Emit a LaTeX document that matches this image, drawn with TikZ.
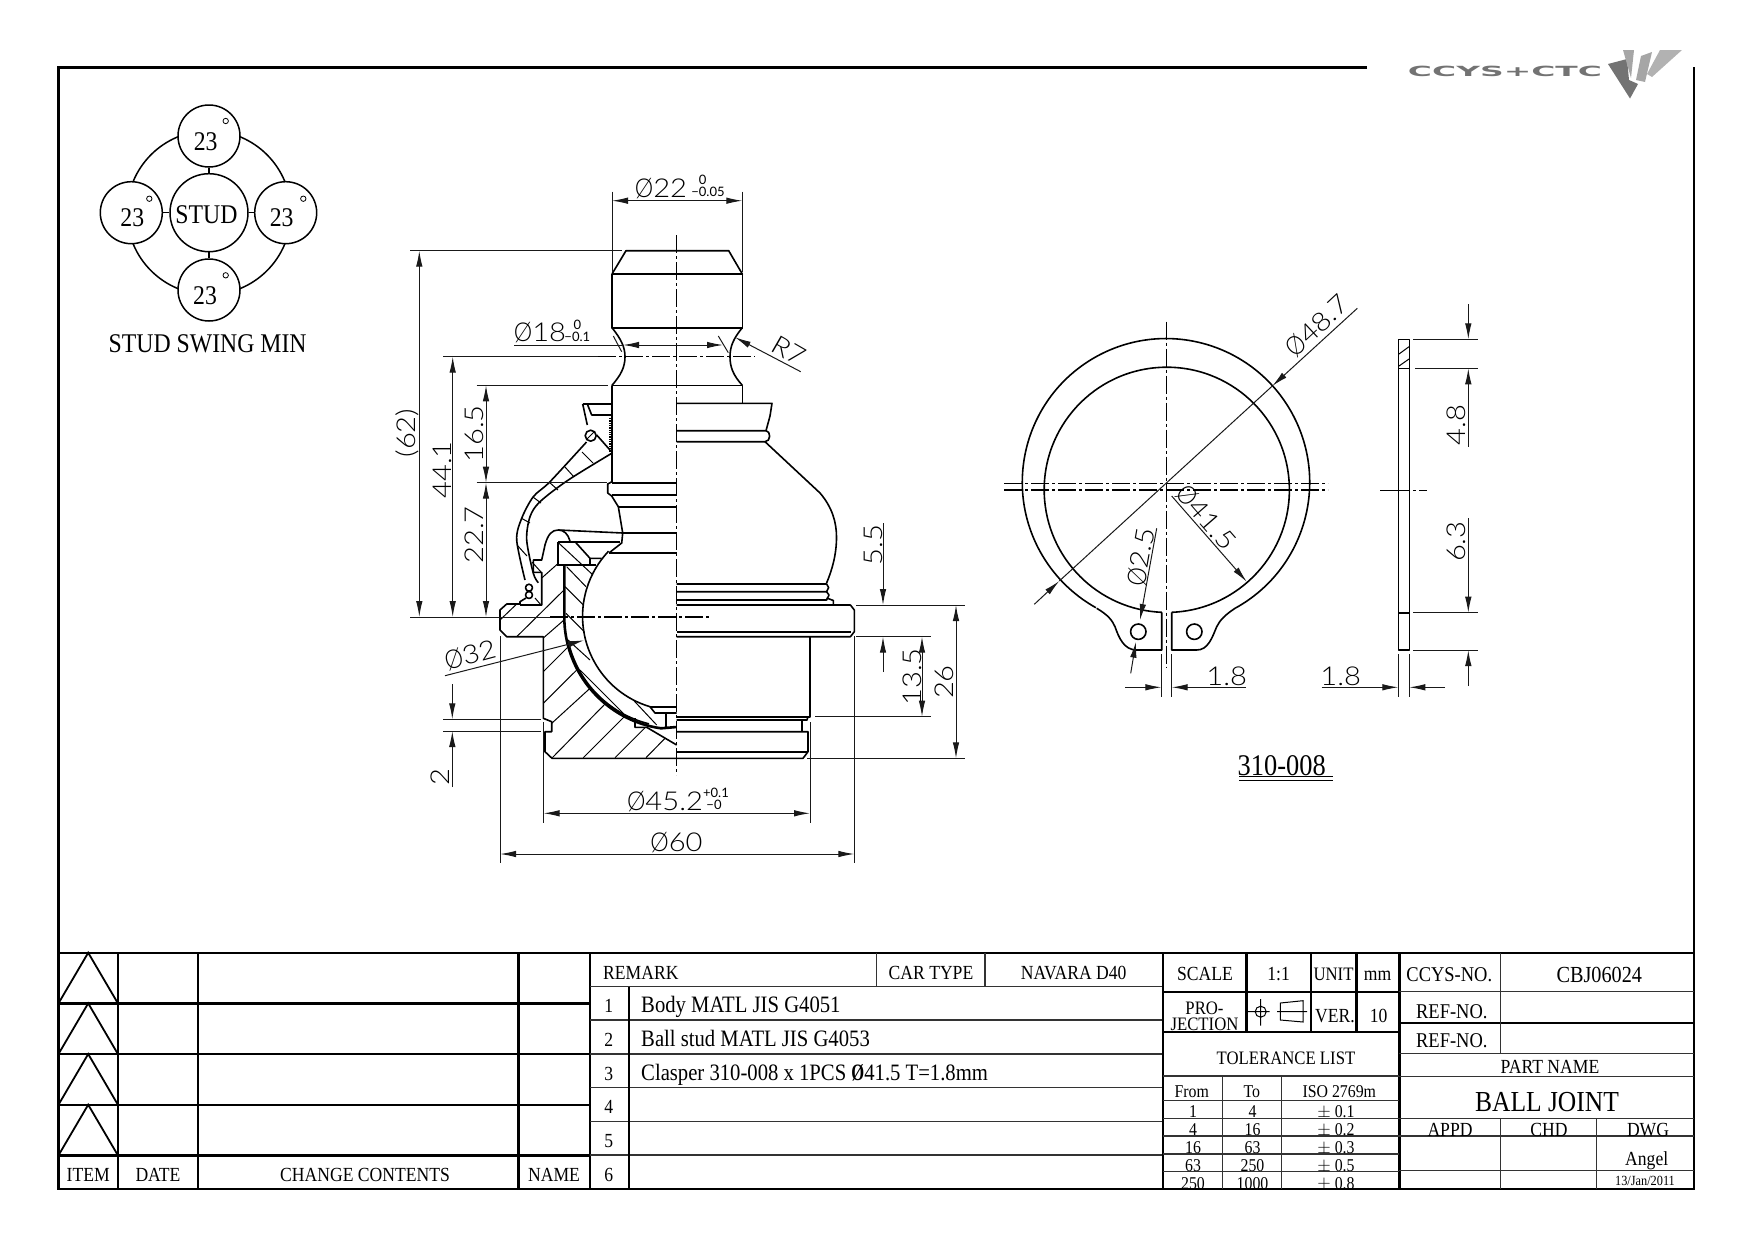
\documentclass[tikz,border=0pt]{standalone}
\usepackage{fontspec}
\setmainfont{Liberation Serif}[FakeStretch=0.88]
\newfontfamily\dimfont[FakeStretch=1.12]{Lato Light}
\newfontfamily\tolfont{Lato}
\newfontfamily\logofont[FakeStretch=2.35]{DejaVu Sans Bold}
\newcommand{\dia}{\scalebox{0.8}[1]{Ø}}
\usetikzlibrary{arrows.meta}
\tikzstyle{part} = [line width=1.6pt, line join=round]
\tikzstyle{hatch} = [line width=1pt]
\tikzstyle{dim} = [line width=1pt, black!90]
\tikzstyle{axis} = [line width=1.2pt, dash pattern=on 18pt off 3pt on 3pt off 3pt]
\tikzstyle{heavy} = [line width=2.4pt]
\tikzstyle{light} = [line width=1.4pt, black!80]
\tikzstyle{small} = [inner sep=0, font=\fontsize{18}{18}\selectfont, text height=14pt, text depth=0pt]
\tikzstyle{cell} = [inner sep=0, font=\fontsize{20}{20}\selectfont, text height=15pt, text depth=0pt]
\tikzstyle{rowtext} = [inner sep=0, anchor=west, font=\fontsize{23.5}{23.5}\selectfont, text height=17pt, text depth=0pt]
\tikzstyle{title} = [inner sep=0, font=\fontsize{27}{27}\selectfont, text height=18pt, text depth=0pt]
\tikzstyle{size} = [inner sep=0, font=\dimfont\fontsize{26}{26}\selectfont, text height=20pt, text depth=0pt]
\tikzstyle{tol} = [inner sep=0, font=\tolfont\fontsize{13}{13}\selectfont, text height=9pt, text depth=0pt]
\tikzstyle{swing} = [circle, draw, line width=1.5pt, fill=white, minimum size=62pt, inner sep=0]
\begin{document}
\begin{tikzpicture}[x=1pt, y=-1pt, >={Latex[length=16pt,width=6.5pt]}]
    \useasboundingbox (0,0) rectangle (1754,1240);
    % frame
    \draw [heavy] (1367,67.3) -- (58.5,67.3) -- (58.5,1189) -- (1694,1189) -- (1694,67.3);

    % logo
    \node [inner sep=0, text=black!55, text height=10pt, text depth=0pt, font=\logofont\fontsize{14}{14}\selectfont] (logotext) at (1505,71) {CCYS+CTC};
    \fill [black!55] (1608,64) -- (1627,59) -- (1629,80) -- (1638,84) -- (1630,98.5) -- cycle;
    \fill [black!35] (1623,50) -- (1634,50) -- (1631,78) -- cycle;
    \fill [black!35] (1641,56) -- (1652,52) -- (1645,82) -- (1636,80) -- cycle;
    \fill [black!30] (1660,50) -- (1682,50) -- (1652,77) -- (1647,74) -- cycle;

    % stud swing
    \node [circle, draw, line width=1.5pt, minimum size=164pt, inner sep=0] (swingring) at (209,212.7) {};
    \node [swing, minimum size=78pt, font=\fontsize{27}{27}\selectfont, text height=18pt, text depth=0pt] (stud) at (209,212.7) {\hspace*{-5pt}\raisebox{-2pt}{STUD}};
    \node [swing] (swingtop) at (209,136) {};
    \node [swing] (swingleft) at (131.3,212.7) {};
    \node [swing] (swingright) at (285.7,212.7) {};
    \node [swing] (swingbottom) at (209,290) {};
    \draw [line width=1.5pt] (stud) -- (swingtop);
    \draw [line width=1.5pt] (stud) -- (swingleft);
    \draw [line width=1.5pt] (stud) -- (swingright);
    \draw [line width=1.5pt] (stud) -- (swingbottom);
    \node [title] (degtop) at (205.7,141.7) {23};
    \node [title] (degleft) at (132.3,217) {23};
    \node [title] (degright) at (281.7,217.7) {23};
    \node [title] (degbottom) at (205,295) {23};
    \draw [line width=0.8pt] (225.7,121) circle (2.7pt) (149.3,198.7) circle (2.7pt) (303.3,198.7) circle (2.7pt) (225.7,275.3) circle (2.7pt);
    \node [title] (swingname) at (207.7,343.3) {STUD SWING MIN};

    % ball stud, upper half
    \draw [part] (612,274) -- (626,250.7) -- (728.7,250.7) -- (742.3,274) -- cycle;
    \draw [part] (612,274) -- (612,327.7) -- (742.3,327.7) -- (742.3,274);
    \draw [part] (612,327.7) .. controls (621,339) and (625,347) .. (625,356.7) .. controls (625,367) and (621,375) .. (612,385.3);
    \draw [part] (742.3,327.7) .. controls (733,339) and (730,347) .. (730,356.7) .. controls (730,367) and (733,375) .. (742.3,385.3);
    \draw [part] (612,385.3) -- (742.3,385.3) -- (742.3,403.3);
    \draw [part] (612,385.3) -- (612,481.7) -- (607.7,484) -- (607.7,493) -- (611.7,496) -- (618.3,506.7) -- (622.7,533) -- (621.7,543) -- (609.3,552.7);

    % right half, outside
    \draw [part] (676.7,403.3) -- (772,403.3) -- (770,416) -- (766,430.7) -- (676.7,430.7);
    \draw [part] (766,430.7) .. controls (771,431) and (771,441.7) .. (765,441.7) -- (676.7,441.7);
    \draw [part] (765,441.7) -- (820,493) .. controls (832,507) and (836.5,522) .. (836.5,537) .. controls (836.5,555) and (832,570) .. (826.6,583);
    \draw [part] (676.7,584) -- (826.6,584) -- (828.6,587.5) -- (826.6,591.7) -- (676.7,591.7);
    \draw [part] (826.6,591.7) -- (829,595) -- (826.6,600) -- (676.7,600);
    \draw [part] (826.6,598) -- (833.4,600.5) -- (833.4,605);
    \draw [part] (676.7,605) -- (850.4,605) -- (854.3,610) -- (854.3,631.7) -- (850.4,636.7) -- (676.7,636.7);
    \draw [part] (676.7,631.7) -- (851,631.7);
    \draw [part] (810,636.7) -- (810,716.7) -- (676.7,716.7);
    \draw [part] (676.7,720) -- (807,720) -- (808,716.7);
    \draw [part] (802,720) -- (802,731.7);
    \draw [part] (676.7,731.7) -- (808,731.7) -- (808,751.7) -- (803,758.3) -- (552,758.3) -- (545,751.7) -- (545,731.7) -- (551.7,731.7) -- (551.7,721.7) -- (543.3,718.3) -- (543.3,636.7) -- (506.7,636.7) -- (500,630) -- (500,610) -- (506.7,604) -- (520,604);
    \draw [part] (676.7,751.7) -- (808,751.7);

    % section, stud lines to the axis
    \draw [part] (611.7,483) -- (676.7,483);
    \draw [part] (611.7,495) -- (676.7,495);
    \draw [part] (618.3,506.7) -- (676.7,506.7);
    \draw [part] (622.7,533) -- (558.3,530);
    \draw [part] (622.7,533) -- (676.7,533);
    \draw [part] (609.3,552.7) -- (676.7,552.7);

    % boot, section
    \draw [part] (582.7,404) -- (611.7,404);
    \draw [part] (582.7,404) -- (587.3,425);
    \draw [part] (587.3,404) -- (591.7,415) -- (611.7,415);
    \draw [part] (590.7,435.7) circle (5.5pt);
    \draw [hatch] (587,439) -- (594,432);
    \draw [part] (596.7,435) -- (610,450);
    \draw [part] plot [smooth] coordinates {(586.5,442) (550,481.7) (533.3,496.7) (521.7,518.3) (516.7,540) (525,580)};
    \draw [part] plot [smooth] coordinates {(611.7,453.3) (568.3,480) (540,501.7) (530,516.7) (526.7,540) (533.3,573.3) (538.3,582.7)};
    \draw [hatch] (582,452) -- (593,463) (565,467) -- (574,477) (549,482) -- (558,490) (533,497) -- (541,503) (521,518) -- (530,523) (517,545) -- (527,556);
    \draw [line width=1.3pt, densely dotted] (610,418) -- (610,452);
    \draw [line width=1.3pt, densely dotted] (611.5,418) -- (611.5,452);
    % clip
    \draw [part] (529,587.7) circle (3.5pt) (529,595) circle (3.5pt);
    \draw [part] (520,604) -- (520,601.7) -- (526,598);
    \draw [part] (520,605) -- (541.7,605) -- (541.7,572.3) -- (533.3,572.3) -- (533.3,560) -- (541.7,560) -- (545,545);
    \draw [part] (545,545) .. controls (548,534) and (552,530) .. (558.3,530) .. controls (564,530) and (568,534) .. (570,541);

    % seat and ball
    \draw [line width=2.3pt] (558.3,541.7) -- (620,541.7);
    \draw [line width=2.3pt] (558.3,541.7) -- (558.3,565) -- (596,565);
    \draw [part] (575,541.7) -- (590,558.3) -- (601.7,558.3);
    \draw [part] (590,558.3) -- (590,565);
    \draw [line width=2.6pt] (564.3,565) -- (564.3,617) arc[start angle=180, end angle=262, radius=112.4pt] -- (676.7,727);
    \draw [part] (568,640) arc[start angle=192, end angle=256, radius=110pt];
    \draw [part] (650,706.7) arc[start angle=253.4, end angle=136.4, radius=94.4pt];
    \draw [part] (650,706.7) -- (676.7,706.7);
    \draw [part] (650,706.7) -- (655,713) -- (676.7,713);
    \draw [part] (666,713) -- (666,727);
    \draw [part] (635,718) -- (635,727.3) -- (646.7,727.3) -- (676.7,745);

    % hatching of body and seat
    \draw [hatch] (500,620) -- (516.7,604) (516.7,636.7) -- (564,590) (543.3,638) -- (564,620) (543.3,671.7) -- (568.3,646.7) (543.3,703.3) -- (576.7,670) (551.7,723.3) -- (590,688.3) (552.3,757.7) -- (605,704) (583.3,757.7) -- (625,716) (615,757.7) -- (645,727.7) (646,757.7) -- (665,738.3) (541.7,578) -- (558.3,563.3);
    \draw [hatch] (559,543.3) -- (593,575) (566.7,566.7) -- (586,586.7) (565,586.7) -- (583.3,605) (566,613.3) -- (584.3,631.7) (568,640) -- (590,660) (580,670) -- (623,713) (633.3,700) -- (656.7,725) (535,598) -- (541,605) (532,562) -- (541,572);

    % axes of the main view
    \draw [axis, line width=1.5pt] (676.7,235) -- (676.7,775);
    \draw [axis] (598,356.7) -- (755,356.7);
    \draw [axis] (550,617) -- (711,617);

    % dimensions, main view
    \draw [dim] (612,191.7) -- (612,272) (742.3,191.7) -- (742.3,272);
    \draw [dim, <->] (612,200.7) -- (742.3,200.7);
    \node [size] (d22) at (661,187) {\dia 22};
    \node [tol] (d22a) at (702.7,180) {0};
    \node [tol] (d22b) at (708,192) {−0.05};
    \draw [dim] (410,250.7) -- (621.7,250.7);
    \draw [dim] (443.3,356.7) -- (598,356.7);
    \draw [dim] (476.7,385.3) -- (608,385.3);
    \draw [dim] (476.7,482.7) -- (607,482.7);
    \draw [dim] (410,617) -- (550,617);
    \draw [dim, <->] (419.3,250.7) -- (419.3,617);
    \draw [dim, <->] (452.7,356.7) -- (452.7,617);
    \draw [dim, <->] (486,385.3) -- (486,482.7);
    \draw [dim, <->] (486,482.7) -- (486,617);
    \node [size, rotate=90] (d62) at (405,433) {(62)};
    \node [size, rotate=90] (d441) at (441,470) {44.1};
    \node [size, rotate=90] (d165) at (473,434) {16.5};
    \node [size, rotate=90] (d227) at (473,535) {22.7};
    \draw [dim, ->] (676,345) -- (623,345);
    \draw [dim] (514,345) -- (623,345);
    \draw [dim, ->] (676,345) -- (723,345);
    \draw [dim] (613.3,336) -- (621.7,351.7) (718.3,336) -- (728.3,352.7);
    \node [size] (d18) at (540,331.7) {\dia 18};
    \node [tol] (d18a) at (577.3,325) {0};
    \node [tol] (d18b) at (577.3,337) {−0.1};
    \draw [dim, ->] (800.7,371.7) -- (735,337.3);
    \node [size, rotate=-30] (r7) at (789,350) {R7};
    \draw [dim] (856,605) -- (965,605) (856,636.7) -- (931,636.7) (815,716.7) -- (931,716.7) (807,758.3) -- (965,758.3);
    \draw [dim, ->] (883,523) -- (883,605);
    \draw [dim, ->] (883,672) -- (883,636.7);
    \draw [dim, <->] (922,636.7) -- (922,716.7);
    \draw [dim, <->] (956,605) -- (956,758.3);
    \node [size, rotate=90] (d55) at (872.5,545) {5.5};
    \node [size, rotate=90] (d135) at (911,677) {13.5};
    \node [size, rotate=90] (d26) at (943,682) {26};
    \draw [dim] (543.6,722) -- (543.6,822.7) (810,722) -- (810,822.7);
    \draw [dim, <->] (543.6,813.3) -- (810,813.3);
    \node [size] (d452) at (665,800) {\dia 45.2};
    \node [tol] (d452a) at (716,793) {+0.1};
    \node [tol] (d452b) at (714,805) {−0};
    \draw [dim] (500,636) -- (500,863) (854.3,636) -- (854.3,863);
    \draw [dim, <->] (500,854) -- (854.3,854);
    \node [size] (d60) at (676.5,841) {\dia 60};
    \draw [dim] (443,719.3) -- (541,719.3) (443,731) -- (541,731);
    \draw [dim, ->] (452.3,684) -- (452.3,719.3);
    \draw [dim, ->] (452.3,787) -- (452.3,731);
    \node [size, rotate=90] (d2) at (439,776.7) {2};
    \draw [dim, ->] (445,675.7) -- (584,640.3);
    \node [size, rotate=15] (d32) at (470,654) {\dia 32};

    % clasper, front view
    \draw [part] (1235,608.3) arc[start angle=-61.3, end angle=240.8, radius=143.7pt];
    \draw [part] (1171.7,612.3) arc[start angle=-87.7, end angle=267.7, radius=122.6pt];
    \draw [part] (1096.7,608.3) .. controls (1108,615) and (1112,620) .. (1115,626.7) .. controls (1119,638) and (1124,650) .. (1136.7,650) -- (1161.7,650) -- (1161.7,612.3);
    \draw [part] (1235,608.3) .. controls (1225,615) and (1220,620) .. (1216.7,626.7) .. controls (1212,638) and (1208,650) .. (1196.7,650) -- (1171.7,650) -- (1171.7,612.3);
    \draw [part] (1138.3,631.7) circle (7.7pt) (1194.3,631.7) circle (7.7pt);
    \draw [axis] (1004,483.3) -- (1328,483.3);
    \draw [axis] (1004,490) -- (1328,490);
    \draw [axis] (1166.7,321.7) -- (1166.7,668.3);

    % clasper, dimensions
    \draw [dim, ->] (1357.3,308.3) -- (1272.3,386);
    \draw [dim] (1272.3,386) -- (1059.3,581);
    \draw [dim, ->] (1034.3,604.3) -- (1059.3,581);
    \node [size, rotate=43] (d487) at (1316.7,325) {\dia 48.7};
    \draw [dim, ->] (1171.7,496) -- (1246.7,581.7);
    \node [size, rotate=-49] (d415) at (1207,516.7) {\dia 41.5};
    \draw [dim, ->] (1156.7,528.3) -- (1140,620);
    \draw [dim, ->] (1130.7,673.3) -- (1136,641.7);
    \node [size, rotate=80] (d25) at (1140,556.7) {\dia 2.5};
    \draw [dim] (1161.3,654) -- (1161.3,696.7) (1171.7,654) -- (1171.7,696.7);
    \draw [dim, ->] (1125,687.3) -- (1161.3,687.3);
    \draw [dim, ->] (1246,687.3) -- (1171.7,687.3);
    \node [size] (d18c) at (1226.7,675) {1.8};
    \node [title, font=\fontsize{30}{30}\selectfont] (partno) at (1281.7,766.7) {310-008};
    \draw [line width=1pt] (1239,776.7) -- (1333,776.7) (1239,780) -- (1333,780);

    % clasper, side view
    \draw [part] (1398.3,339.3) rectangle (1409.3,650);
    \draw [part] (1398.3,368.3) -- (1409.3,368.3) (1398.3,612.7) -- (1409.3,612.7);
    \draw [hatch] (1399,354) -- (1409,346.7) (1399,366) -- (1409,359);
    \draw [axis, line width=1pt, dash pattern=on 30pt off 3pt on 3pt off 3pt] (1380,490) -- (1427.3,490);
    \draw [dim] (1413.3,339.3) -- (1477.7,339.3) (1415,368.3) -- (1477.7,368.3) (1413.3,612.7) -- (1477.7,612.7) (1413.3,650) -- (1477.7,650);
    \draw [dim, ->] (1468.3,304) -- (1468.3,339.3);
    \draw [dim, ->] (1468.3,446.7) -- (1468.3,368.3);
    \draw [dim, ->] (1468.3,518.3) -- (1468.3,612.7);
    \draw [dim, ->] (1468.3,686) -- (1468.3,650);
    \node [size, rotate=90] (d48) at (1455,425) {4.8};
    \node [size, rotate=90] (d63) at (1455,541.7) {6.3};
    \draw [dim] (1398.3,654) -- (1398.3,696.7) (1409.3,654) -- (1409.3,696.7);
    \draw [dim, ->] (1321.7,687.3) -- (1398.3,687.3);
    \draw [dim, ->] (1445,687.3) -- (1409.3,687.3);
    \node [size] (d18s) at (1340.7,675) {1.8};

    % change table
    \draw [heavy] (58.5,952.7) -- (1694,952.7);
    \draw [heavy] (58.5,1003.3) -- (590.2,1003.3) (58.5,1054) -- (590.2,1054) (58.5,1104.7) -- (590.2,1104.7) (58.5,1155.3) -- (590.2,1155.3);
    \draw [heavy] (117.9,952.7) -- (117.9,1189) (197.7,952.7) -- (197.7,1189) (518.3,952.7) -- (518.3,1189) (590.2,952.7) -- (590.2,1189);
    \draw [line width=1.8pt] (58.5,1003.3) -- (88.2,952.7) -- (117.9,1003.3) (58.5,1054) -- (88.2,1003.3) -- (117.9,1054) (58.5,1104.7) -- (88.2,1054) -- (117.9,1104.7) (58.5,1155.3) -- (88.2,1104.7) -- (117.9,1155.3);
    \node [cell] (item) at (88.2,1174) {ITEM};
    \node [cell] (date) at (158,1174) {DATE};
    \node [cell] (change) at (365,1174) {CHANGE CONTENTS};
    \node [cell] (name) at (554,1174) {NAME};

    % remark table
    \draw [light] (590.2,986.7) -- (1163.2,986.7) (590.2,1020) -- (1163.2,1020) (590.2,1054) -- (1163.2,1054) (590.2,1087.7) -- (1163.2,1087.7) (590.2,1121.7) -- (1163.2,1121.7) (590.2,1155) -- (1163.2,1155);
    \draw [heavy] (629,986.7) -- (629,1189);
    \draw [light] (876.6,952.7) -- (876.6,986.7) (985,952.7) -- (985,986.7);
    \node [cell, anchor=west] (remark) at (603,972) {REMARK};
    \node [cell] (cartype) at (931,972) {CAR TYPE};
    \node [cell] (navara) at (1073.7,972) {NAVARA D40};
    \node [cell] (n1) at (608.7,1005) {1};
    \node [cell] (n2) at (608.7,1039) {2};
    \node [cell] (n3) at (608.7,1073) {3};
    \node [cell] (n4) at (608.7,1106) {4};
    \node [cell] (n5) at (608.7,1140) {5};
    \node [cell] (n6) at (608.7,1174) {6};
    \node [rowtext] (body) at (641,1004) {Body MATL JIS G4051};
    \node [rowtext] (ball) at (641,1038) {Ball stud MATL JIS G4053};
    \node [rowtext] (clasper) at (641,1072) {Clasper 310-008 x 1PCS {\bfseries\dia}41.5 T=1.8mm};

    % scale and tolerance
    \draw [heavy] (1163.2,952.7) -- (1163.2,1189) (1399.3,952.7) -- (1399.3,1189);
    \draw [heavy] (1246.4,952.7) -- (1246.4,1031.7) (1310.7,952.7) -- (1310.7,1031.7) (1356.4,952.7) -- (1356.4,1031.7);
    \draw [heavy] (1163.2,991.7) -- (1399.3,991.7) (1163.2,1031.7) -- (1399.3,1031.7);
    \draw [light] (1163.2,1076) -- (1399.3,1076) (1163.2,1100.7) -- (1399.3,1100.7) (1163.2,1118.3) -- (1399.3,1118.3) (1163.2,1136) -- (1399.3,1136) (1163.2,1154) -- (1399.3,1154) (1163.2,1171.3) -- (1399.3,1171.3);
    \draw [light] (1222.5,1076) -- (1222.5,1189) (1281.4,1076) -- (1281.4,1189);
    \node [cell] (scale) at (1205,973) {SCALE};
    \node [cell] (scaleval) at (1278.6,973) {1:1};
    \node [cell, font=\fontsize{19}{19}\selectfont] (unit) at (1333.5,973) {UNIT};
    \node [cell] (unitval) at (1377.5,973) {mm};
    \node [cell, font=\fontsize{19}{19}\selectfont] (pro) at (1204.5,1006.7) {PRO-};
    \node [cell, font=\fontsize{19}{19}\selectfont] (jection) at (1204.5,1022.5) {JECTION};
    \draw [line width=1pt] (1260.7,1011.7) circle (5.5pt) (1260.7,999) -- (1260.7,1025.7) (1248,1011.7) -- (1269.6,1011.7) (1277,1011.7) -- (1307,1011.7);
    \draw [line width=1pt] (1280.4,1003) -- (1303,1000.7) -- (1303,1022) -- (1280.4,1020) -- cycle;
    \node [cell] (ver) at (1335,1015) {VER.};
    \node [cell] (verval) at (1378.6,1015) {10};
    \node [cell, font=\fontsize{19}{19}\selectfont] (tolerance) at (1286,1056.7) {TOLERANCE LIST};
    \node [small] (from) at (1191.8,1090) {From};
    \node [small] (to) at (1251.8,1090) {To};
    \node [small] (iso) at (1339.3,1090) {ISO 2769m};
    \node [small] (f1) at (1193,1110) {1};
    \node [small] (t1) at (1252.5,1110) {4};
    \node [small] (v1) at (1336,1110) {$\pm$ 0.1};
    \node [small] (f2) at (1193,1128) {4};
    \node [small] (t2) at (1252.5,1128) {16};
    \node [small] (v2) at (1336,1128) {$\pm$ 0.2};
    \node [small] (f3) at (1193,1146) {16};
    \node [small] (t3) at (1252.5,1146) {63};
    \node [small] (v3) at (1336,1146) {$\pm$ 0.3};
    \node [small] (f4) at (1193,1164) {63};
    \node [small] (t4) at (1252.5,1164) {250};
    \node [small] (v4) at (1336,1164) {$\pm$ 0.5};
    \node [small] (f5) at (1193,1182) {250};
    \node [small] (t5) at (1252.5,1182) {1000};
    \node [small] (v5) at (1336,1182) {$\pm$ 0.8};

    % title block
    \draw [light] (1399.3,991.7) -- (1694,991.7) (1399.3,1053.3) -- (1694,1053.3);
    \draw [heavy] (1399.3,1023) -- (1694,1023);
    \draw [light] (1399.3,1076.5) -- (1694,1076.5) (1399.3,1136) -- (1694,1136) (1399.3,1170.7) -- (1694,1170.7);
    \draw [light] (1399.3,1118.3) -- (1694,1118.3);
    \draw [light] (1500.7,952.7) -- (1500.7,1053.3) (1500.7,1118.3) -- (1500.7,1189) (1596.7,1118.3) -- (1596.7,1189);
    \node [cell, font=\fontsize{21}{21}\selectfont] (ccysno) at (1449.3,974) {CCYS-NO.};
    \node [cell, font=\fontsize{23}{23}\selectfont] (cbj) at (1599.3,975) {CBJ06024};
    \node [cell, font=\fontsize{21}{21}\selectfont] (ref1) at (1451.8,1011) {REF-NO.};
    \node [cell, font=\fontsize{21}{21}\selectfont] (ref2) at (1451.8,1040) {REF-NO.};
    \node [cell] (partname) at (1550,1066) {PART NAME};
    \node [title, font=\fontsize{29}{29}\selectfont] (balljoint) at (1547,1102) {BALL JOINT};
    \node [cell] (appd) at (1450,1129) {APPD};
    \node [cell] (chd) at (1549,1129) {CHD};
    \node [cell] (dwg) at (1648,1129) {DWG};
    \node [cell] (angel) at (1646.7,1158) {Angel};
    \node [inner sep=0, font=\fontsize{14}{14}\selectfont] (dwgdate) at (1645,1180.7) {13/Jan/2011};
\end{tikzpicture}
\end{document}
